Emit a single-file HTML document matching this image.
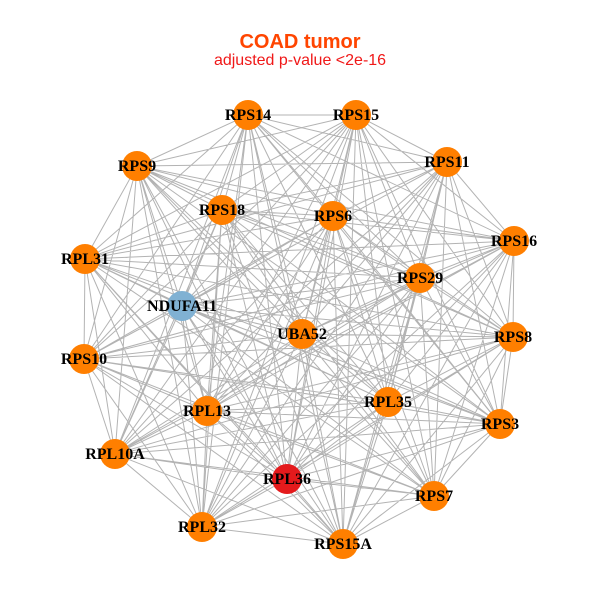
<!DOCTYPE html>
<html><head><meta charset="utf-8"><style>
html,body{margin:0;padding:0;background:#fff;}
svg{display:block;}
.l{font-family:"Liberation Serif",serif;font-weight:bold;font-size:16px;fill:#000;text-anchor:middle;}
</style></head><body>
<svg width="600" height="600" viewBox="0 0 600 600" xmlns="http://www.w3.org/2000/svg">
<rect width="600" height="600" fill="#fff"/>
<text x="300" y="48" text-anchor="middle" font-family="Liberation Sans, sans-serif" font-weight="bold" font-size="20" fill="#FF4500">COAD tumor</text>
<text x="300" y="65" text-anchor="middle" font-family="Liberation Sans, sans-serif" font-size="16" fill="#F01818">adjusted p-value &lt;2e-16</text>
<path fill="none" stroke="#b3b3b3" stroke-width="1" d="
M248 115L356 115M248 115L447 162M248 115L137 166M248 115L222 210M248 115L333 216M248 115L514 241M248 115L85 259M248 115L420 278M248 115L182 306M248 115L302 334M248 115L513 337M248 115L84 359M248 115L207 411M248 115L388 402M248 115L500 424M248 115L115 454M248 115L287 479M248 115L434 496M248 115L202 527M248 115L343 544
M356 115L447 162M356 115L137 166M356 115L222 210M356 115L333 216M356 115L514 241M356 115L85 259M356 115L420 278M356 115L182 306M356 115L302 334M356 115L513 337M356 115L84 359M356 115L207 411M356 115L388 402M356 115L500 424M356 115L115 454M356 115L287 479M356 115L434 496M356 115L202 527M356 115L343 544
M447 162L137 166M447 162L222 210M447 162L333 216M447 162L514 241M447 162L85 259M447 162L420 278M447 162L182 306M447 162L302 334M447 162L513 337M447 162L84 359M447 162L207 411M447 162L388 402M447 162L500 424M447 162L115 454M447 162L287 479M447 162L434 496M447 162L202 527M447 162L343 544
M137 166L222 210M137 166L333 216M137 166L514 241M137 166L85 259M137 166L420 278M137 166L182 306M137 166L302 334M137 166L513 337M137 166L84 359M137 166L207 411M137 166L388 402M137 166L500 424M137 166L115 454M137 166L287 479M137 166L434 496M137 166L202 527M137 166L343 544
M222 210L333 216M222 210L514 241M222 210L85 259M222 210L420 278M222 210L182 306M222 210L302 334M222 210L513 337M222 210L84 359M222 210L207 411M222 210L388 402M222 210L500 424M222 210L115 454M222 210L287 479M222 210L434 496M222 210L202 527M222 210L343 544
M333 216L514 241M333 216L85 259M333 216L420 278M333 216L182 306M333 216L302 334M333 216L513 337M333 216L84 359M333 216L207 411M333 216L388 402M333 216L500 424M333 216L115 454M333 216L287 479M333 216L434 496M333 216L202 527M333 216L343 544
M514 241L85 259M514 241L420 278M514 241L182 306M514 241L302 334M514 241L513 337M514 241L84 359M514 241L207 411M514 241L388 402M514 241L500 424M514 241L115 454M514 241L287 479M514 241L434 496M514 241L202 527M514 241L343 544
M85 259L420 278M85 259L182 306M85 259L302 334M85 259L513 337M85 259L84 359M85 259L207 411M85 259L388 402M85 259L500 424M85 259L115 454M85 259L287 479M85 259L434 496M85 259L202 527M85 259L343 544
M420 278L182 306M420 278L302 334M420 278L513 337M420 278L84 359M420 278L207 411M420 278L388 402M420 278L500 424M420 278L115 454M420 278L287 479M420 278L434 496M420 278L202 527M420 278L343 544
M182 306L302 334M182 306L513 337M182 306L84 359M182 306L207 411M182 306L388 402M182 306L500 424M182 306L115 454M182 306L287 479M182 306L434 496M182 306L202 527M182 306L343 544
M302 334L513 337M302 334L84 359M302 334L207 411M302 334L388 402M302 334L500 424M302 334L115 454M302 334L287 479M302 334L434 496M302 334L202 527M302 334L343 544
M513 337L84 359M513 337L207 411M513 337L388 402M513 337L500 424M513 337L115 454M513 337L287 479M513 337L434 496M513 337L202 527M513 337L343 544
M84 359L207 411M84 359L388 402M84 359L500 424M84 359L115 454M84 359L287 479M84 359L434 496M84 359L202 527M84 359L343 544
M207 411L388 402M207 411L500 424M207 411L115 454M207 411L287 479M207 411L434 496M207 411L202 527M207 411L343 544
M388 402L500 424M388 402L115 454M388 402L287 479M388 402L434 496M388 402L202 527M388 402L343 544
M500 424L115 454M500 424L287 479M500 424L434 496M500 424L202 527M500 424L343 544
M115 454L287 479M115 454L434 496M115 454L202 527M115 454L343 544
M287 479L434 496M287 479L202 527M287 479L343 544
M434 496L202 527M434 496L343 544
M202 527L343 544"/>
<g fill="#FF7F00">
<circle cx="248" cy="115" r="15"/>
<circle cx="356" cy="115" r="15"/>
<circle cx="447" cy="162" r="15"/>
<circle cx="137" cy="166" r="15"/>
<circle cx="222" cy="210" r="15"/>
<circle cx="333" cy="216" r="15"/>
<circle cx="514" cy="241" r="15"/>
<circle cx="85" cy="259" r="15"/>
<circle cx="420" cy="278" r="15"/>
<circle cx="302" cy="334" r="15"/>
<circle cx="513" cy="337" r="15"/>
<circle cx="84" cy="359" r="15"/>
<circle cx="207" cy="411" r="15"/>
<circle cx="388" cy="402" r="15"/>
<circle cx="500" cy="424" r="15"/>
<circle cx="115" cy="454" r="15"/>
<circle cx="434" cy="496" r="15"/>
<circle cx="202" cy="527" r="15"/>
<circle cx="343" cy="544" r="15"/>
</g>
<circle cx="182" cy="306" r="15" fill="#80B1D3"/>
<circle cx="287" cy="479" r="15" fill="#E41A1C"/>
<g class="l">
<text class="l" x="248" y="120">RPS14</text>
<text class="l" x="356" y="120">RPS15</text>
<text class="l" x="447" y="167">RPS11</text>
<text class="l" x="137" y="171">RPS9</text>
<text class="l" x="222" y="215">RPS18</text>
<text class="l" x="333" y="221">RPS6</text>
<text class="l" x="514" y="246">RPS16</text>
<text class="l" x="85" y="264">RPL31</text>
<text class="l" x="420" y="283">RPS29</text>
<text class="l" x="182" y="311">NDUFA11</text>
<text class="l" x="302" y="339">UBA52</text>
<text class="l" x="513" y="342">RPS8</text>
<text class="l" x="84" y="364">RPS10</text>
<text class="l" x="207" y="416">RPL13</text>
<text class="l" x="388" y="407">RPL35</text>
<text class="l" x="500" y="429">RPS3</text>
<text class="l" x="115" y="459">RPL10A</text>
<text class="l" x="287" y="484">RPL36</text>
<text class="l" x="434" y="501">RPS7</text>
<text class="l" x="202" y="532">RPL32</text>
<text class="l" x="343" y="549">RPS15A</text>
</g>
</svg>
</body></html>
